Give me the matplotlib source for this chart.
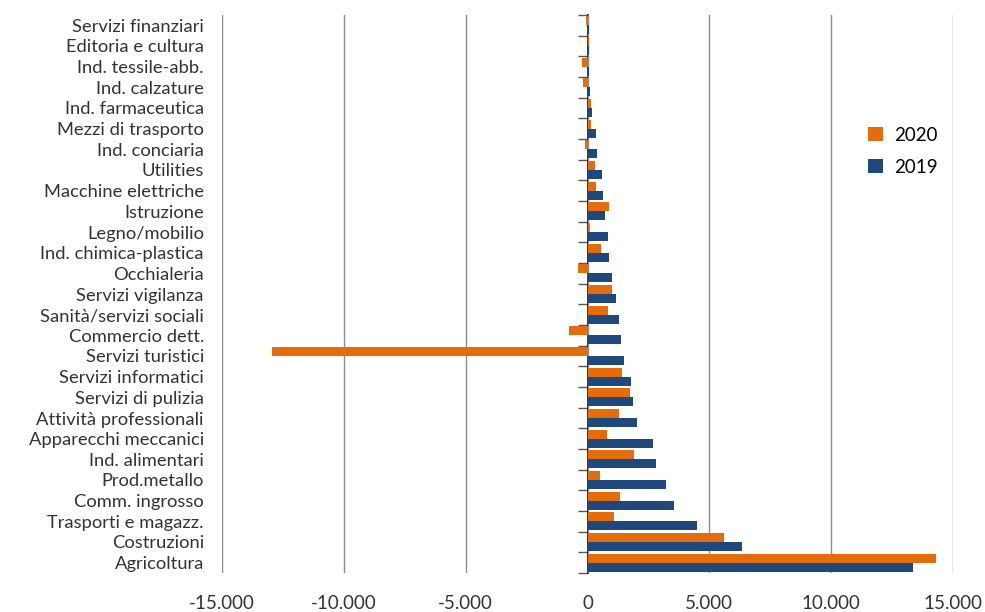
import numpy as np
import matplotlib.pyplot as plt
from matplotlib.ticker import FuncFormatter

# categories from top to bottom
settori = ['Servizi finanziari', 'Editoria e cultura', 'Ind. tessile-abb.', 'Ind. calzature',
           'Ind. farmaceutica', 'Mezzi di trasporto', 'Ind. conciaria', 'Utilities',
           'Macchine elettriche', 'Istruzione', 'Legno/mobilio', 'Ind. chimica-plastica',
           'Occhialeria', 'Servizi vigilanza', 'Sanità/servizi sociali', 'Commercio dett.',
           'Servizi turistici', 'Servizi informatici', 'Servizi di pulizia',
           'Attività professionali', 'Apparecchi meccanici', 'Ind. alimentari',
           'Prod.metallo', 'Comm. ingrosso', 'Trasporti e magazz.', 'Costruzioni', 'Agricoltura']

v2020 = [-80, 60, -220, -180, 150, 150, -100, 310, 355, 875, 110, 535, -400, 1000, 835, -770,
         -12960, 1425, 1750, 1280, 780, 1910, 530, 1320, 1080, 5620, 14320]
v2019 = [70, 50, 70, 110, 200, 350, 410, 575, 630, 700, 835, 875, 1000, 1150, 1290, 1370,
         1500, 1790, 1880, 2050, 2680, 2800, 3210, 3530, 4480, 6330, 13350]

x_ticks = [-15000, -10000, -5000, 0, 5000, 10000, 15000]

plt.rcParams['font.family'] = ['Lato', 'DejaVu Sans']

fig = plt.figure(figsize=(9.85, 6.12), dpi=100)
ax = fig.add_axes([222 / 985, 1 - 573 / 612, (953 - 222) / 985, (573 - 15) / 612])

n = len(settori)
y = np.arange(n)
h = 0.43
ax.barh(y - h / 2, v2020, height=h, color='#E46C0A', label='2020', zorder=3)
ax.barh(y + h / 2, v2019, height=h, color='#1F497D', label='2019', zorder=3)

ax.set_ylim(n - 0.5, -0.5)
ax.set_xlim(-15000, 15000)
ax.set_yticks(y)
ax.set_yticklabels(settori, fontsize=13.2, color='#333333')
ax.tick_params(axis='y', length=0, pad=13)

ax.set_xticks(x_ticks)
ax.xaxis.set_major_formatter(FuncFormatter(lambda v, p: f'{int(v):,}'.replace(',', '.')))
ax.tick_params(axis='x', length=0, pad=16, labelsize=13.5, labelcolor='#333333')
ax.grid(axis='x', color='#8c8c8c', linewidth=1, zorder=0)
for s in ax.spines.values():
    s.set_visible(False)

# zero axis with category ticks
sec = ax.secondary_yaxis(0.5)
sec.set_alignment('left')
sec.set_yticks(np.arange(n + 1) - 0.5)
sec.set_yticklabels([])
sec.tick_params(axis='y', length=7, width=1, color='#555555', direction='out')
sec.spines['left'].set_color('black')
sec.spines['left'].set_linewidth(1.2)

ax.legend(loc='upper left', bbox_to_anchor=(0.86, 0.83), frameon=False, fontsize=13.5,
          handlelength=0.8, handleheight=0.8, labelspacing=0.8, handletextpad=0.6)

fig.savefig('out.png', dpi=100)
